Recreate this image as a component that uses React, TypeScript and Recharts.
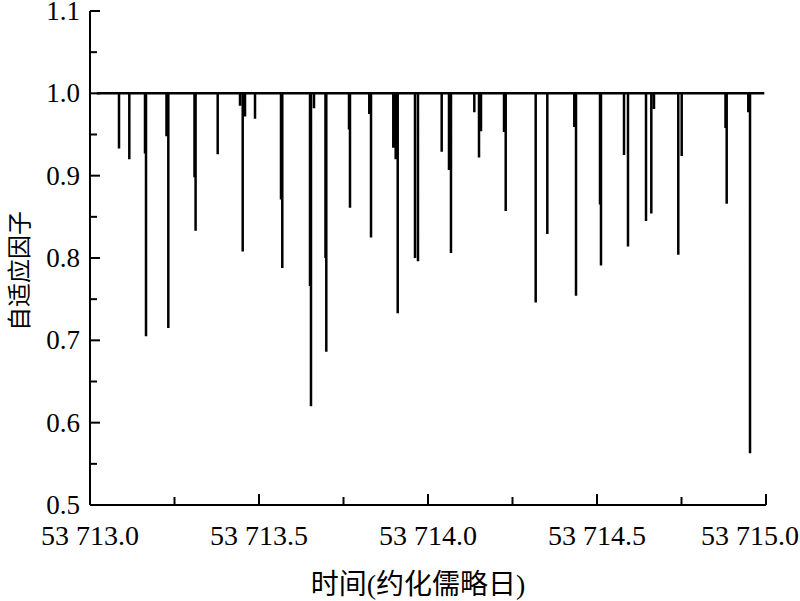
import React from "react";
import { LineChart, Line, XAxis, YAxis, Label } from "recharts";

// spike times (MJD) and the adaptive factor reached at each spike
const spikeTimes = [
  53713.0858, 53713.1163, 53713.1627, 53713.1657, 53713.2263, 53713.2317,
  53713.3092, 53713.3124, 53713.3778, 53713.4438, 53713.4518, 53713.4586,
  53713.4882, 53713.5651, 53713.5689, 53713.6509, 53713.6538, 53713.6627,
  53713.6967, 53713.6991, 53713.7663, 53713.7692, 53713.8263, 53713.8314,
  53713.8973, 53713.9044, 53713.9104, 53713.9615, 53713.9704, 53714.0405,
  53714.0621, 53714.068, 53714.137, 53714.1509, 53714.1568, 53714.2249,
  53714.2299, 53714.3186, 53714.353, 53714.4328, 53714.4379, 53714.5089,
  53714.5118, 53714.5799, 53714.5917, 53714.645, 53714.6607, 53714.6686,
  53714.7405, 53714.7506, 53714.8802, 53714.8837, 53714.9476, 53714.9527
];
const spikeValues = [
  0.933, 0.92, 0.927, 0.705, 0.948, 0.715,
  0.898, 0.833, 0.926, 0.985, 0.808, 0.972,
  0.969, 0.871, 0.788, 0.766, 0.62, 0.982,
  0.8, 0.686, 0.956, 0.861, 0.975, 0.825,
  0.934, 0.92, 0.733, 0.8, 0.796, 0.929,
  0.907, 0.806, 0.977, 0.922, 0.954, 0.953,
  0.857, 0.746, 0.829, 0.959, 0.754, 0.865,
  0.791, 0.925, 0.814, 0.845, 0.854, 0.981,
  0.804, 0.924, 0.958, 0.866, 0.977, 0.563
];
const baseline = 1.0;
const startTime = 53713.02;
const endTime = 53714.995;

const xTicks = [53713, 53713.25, 53713.5, 53713.75, 53714, 53714.25, 53714.5, 53714.75, 53715];
const xTickLabels = ["53 713.0", "", "53 713.5", "", "53 714.0", "", "53 714.5", "", "53 715.0"];
const yTicks = [0.5, 0.55, 0.6, 0.65, 0.7, 0.75, 0.8, 0.85, 0.9, 0.95, 1.0, 1.05, 1.1];
const yTickLabels = ["0.5", "", "0.6", "", "0.7", "", "0.8", "", "0.9", "", "1.0", "", "1.1"];

const data: { t: number; v: number }[] = [{ t: startTime, v: baseline }];
spikeTimes.forEach((t, i) => {
  data.push({ t, v: baseline }, { t, v: spikeValues[i] }, { t, v: baseline });
});
data.push({ t: endTime, v: baseline });

const SERIF = "Liberation Serif";
const CJK = "Noto Sans CJK SC";

function YTick(props: any) {
  const { x, y, index } = props;
  const label = yTickLabels[index];
  const len = label ? 10 : 7;
  return (
    <g>
      <line x1={x} y1={y} x2={x + len} y2={y} stroke="#000" strokeWidth={2} />
      {label && (
        <text x={x - 10} y={y + 9} textAnchor="end" fontSize={27} fontFamily={SERIF} fill="#000">
          {label}
        </text>
      )}
    </g>
  );
}

function XTick(props: any) {
  const { x, y, index } = props;
  const label = xTickLabels[index];
  const len = label ? 11 : 8;
  // last label is pulled inside the picture, as in the original
  const atEdge = x + 50 > 800;
  return (
    <g>
      <line x1={x} y1={y} x2={x} y2={y - len} stroke="#000" strokeWidth={2} />
      {label && (
        <text
          x={atEdge ? 799 : x}
          y={y + 40}
          textAnchor={atEdge ? "end" : "middle"}
          fontSize={28}
          fontFamily={SERIF}
          fill="#000"
        >
          {label}
        </text>
      )}
    </g>
  );
}

export default function App() {
  return (
    <div style={{ position: "absolute", left: 0, top: 0, width: 800, height: 601, background: "#fff" }}>
      <LineChart width={800} height={601} data={data} margin={{ top: 11, right: 34, bottom: 36, left: 30 }}>
        <XAxis
          dataKey="t"
          type="number"
          domain={[53713, 53715]}
          ticks={xTicks}
          interval={0}
          allowDataOverflow
          height={60}
          tickSize={0}
          tickMargin={0}
          tickLine={false}
          axisLine={{ stroke: "#000", strokeWidth: 2 }}
          tick={<XTick />}
        >
          <Label
            content={() => (
              <text x={418} y={594} textAnchor="middle" fontSize={28} fill="#000">
                <tspan fontFamily={CJK}>时间</tspan>
                <tspan fontFamily={SERIF}>(</tspan>
                <tspan fontFamily={CJK}>约化儒略日</tspan>
                <tspan fontFamily={SERIF}>)</tspan>
              </text>
            )}
          />
        </XAxis>
        <YAxis
          type="number"
          domain={[0.5, 1.1]}
          ticks={yTicks}
          interval={0}
          allowDataOverflow
          width={60}
          tickSize={0}
          tickMargin={0}
          tickLine={false}
          axisLine={{ stroke: "#000", strokeWidth: 2 }}
          tick={<YTick />}
        >
          <Label
            content={() => (
              <text
                x={28}
                y={271}
                textAnchor="middle"
                fontSize={24}
                fontFamily={CJK}
                fill="#000"
                transform="rotate(-90, 28, 271)"
              >
                自适应因子
              </text>
            )}
          />
        </YAxis>
        <Line
          type="linear"
          dataKey="v"
          stroke="#000"
          strokeWidth={2.5}
          dot={false}
          activeDot={false}
          isAnimationActive={false}
        />
      </LineChart>
    </div>
  );
}
